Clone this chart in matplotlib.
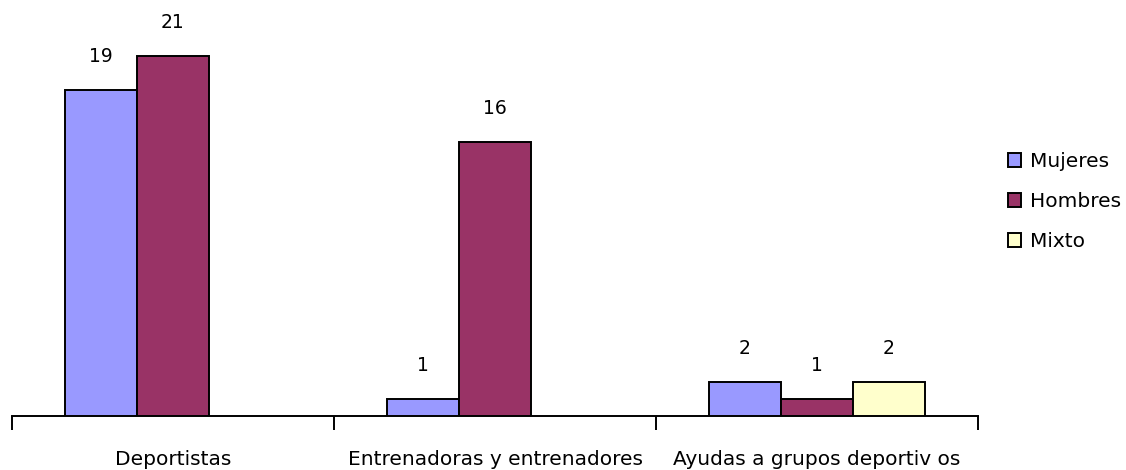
import matplotlib
matplotlib.use("Agg")
import matplotlib.pyplot as plt
from matplotlib.patches import Patch
import numpy as np

categories = ["Deportistas", "Entrenadoras y entrenadores", "Ayudas a grupos deportiv os"]
series_names = ["Mujeres", "Hombres", "Mixto"]
mujeres = [19, 1, 2]
hombres = [21, 16, 1]
mixto = [0, 0, 2]
colors = ["#9999FF", "#993366", "#FFFFCC"]

plt.rcParams['font.family'] = ['DejaVu Sans']

fig = plt.figure(figsize=(11.26, 4.70), dpi=100)
ax = fig.add_axes([12/1126, 1 - 416/470, (978 - 12)/1126, 416/470])

values = [mujeres, hombres, mixto]
w = 72/322
x = np.arange(len(categories))
for i, (vals, col) in enumerate(zip(values, colors)):
    offs = (i - 1) * w
    for xi, v in zip(x, vals):
        if v == 0:
            continue
        ax.bar(xi + offs, v, width=w, color=col, edgecolor="black", linewidth=1.4, zorder=3)
        ax.annotate(str(v), (xi + offs, v), xytext=(0, 24), textcoords="offset points",
                    ha="center", va="center", fontsize=13.5)

ax.set_xlim(-0.5, len(categories) - 0.5)
ax.set_ylim(0, 416 / (360 / 21))
for s in ["top", "right", "left"]:
    ax.spines[s].set_visible(False)
ax.spines["bottom"].set_linewidth(1.4)
ax.set_yticks([])
ax.set_xticks(x)
ax.set_xticklabels(categories, fontsize=14.5)
ax.tick_params(axis="x", which="major", length=0, pad=24.5)
ax.set_xticks(np.arange(-0.5, len(categories), 1.0), minor=True)
ax.tick_params(axis="x", which="minor", length=10, width=1.4, direction="out")

handles = [Patch(facecolor=c, edgecolor="black", linewidth=1.4) for c in colors]
fig.legend(handles, series_names, loc="upper left", bbox_to_anchor=(1008/1126, 1 - 152/470),
           frameon=False, fontsize=14.5, handlelength=0.65, handleheight=0.65,
           handletextpad=0.45, labelspacing=1.05, borderaxespad=0, borderpad=0)

fig.savefig("out.png", dpi=100)
